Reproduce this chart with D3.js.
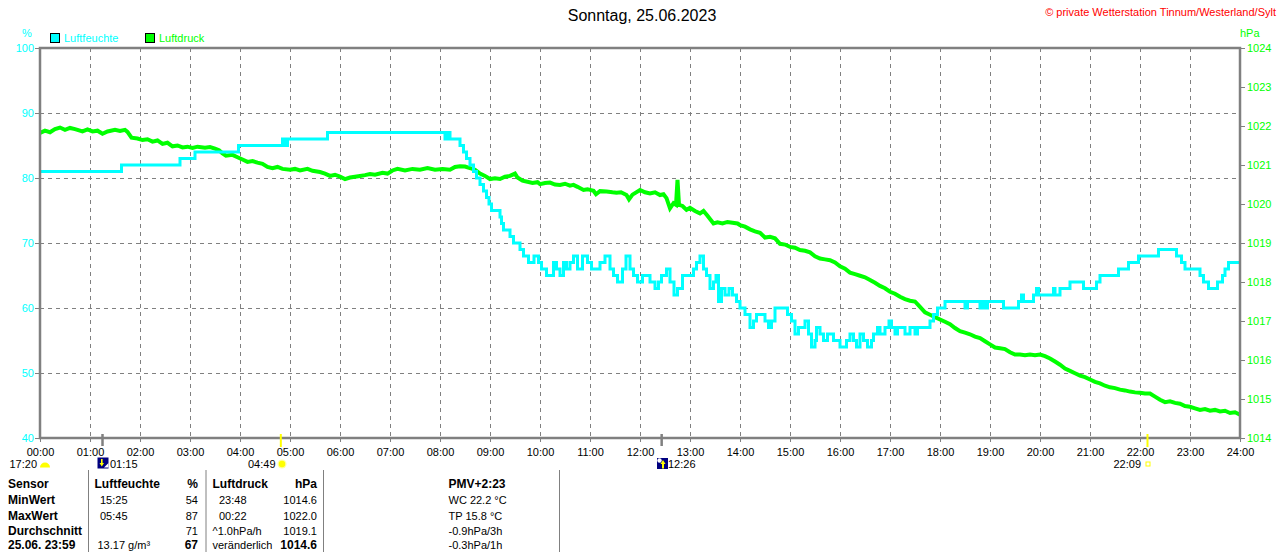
<!DOCTYPE html>
<html>
<head>
<meta charset="utf-8">
<script src="https://cdn.jsdelivr.net/npm/d3@7"></script>
<style>
  body { margin: 0; background: #fff; }
  svg { display: block; font-family: "Liberation Sans", Arial, sans-serif; }
</style>
</head>
<body>
<div id="chart"></div>
<script>
// Luftfeuchte (%), Stufenwerte: Zeitpunkt in Stunden -> Wert
var humHours = [0, 1.63, 2.8, 3.1, 3.97, 4.85, 4.9, 4.95, 5.75, 8.1, 8.15, 8.2, 8.4, 8.47, 8.53, 8.6, 8.67, 8.73, 8.8, 8.87, 8.93, 8.98,
  9.03, 9.2, 9.23, 9.27, 9.4, 9.47, 9.6, 9.67, 9.77, 9.88, 9.97, 10.03, 10.13, 10.27, 10.33, 10.4, 10.47, 10.53, 10.6, 10.67, 10.75,
  10.85, 10.95, 11.03, 11.2, 11.3, 11.4, 11.47, 11.55, 11.65, 11.72, 11.8, 11.87, 11.95, 12.05, 12.2, 12.3, 12.37, 12.43, 12.53, 12.6,
  12.68, 12.75, 12.85, 13.07, 13.13, 13.2, 13.27, 13.33, 13.4, 13.47, 13.52, 13.57, 13.63, 13.7, 13.78, 13.85, 13.93, 14.0, 14.1, 14.2,
  14.27, 14.33, 14.5, 14.57, 14.63, 14.7, 14.95, 15.03, 15.1, 15.17, 15.3, 15.37, 15.43, 15.5, 15.53, 15.6, 15.67, 15.75, 15.87, 16.0,
  16.13, 16.2, 16.27, 16.33, 16.4, 16.47, 16.55, 16.63, 16.67, 16.75, 16.8, 16.9, 16.98, 17.03, 17.1, 17.15, 17.3, 17.4, 17.5, 17.55,
  17.8, 17.87, 17.95, 18.1, 18.5, 18.55, 18.8, 18.85, 18.9, 18.95, 19.27, 19.57, 19.63, 19.67, 19.87, 19.93, 19.97, 20.27, 20.3, 20.4,
  20.6, 20.87, 21.13, 21.2, 21.57, 21.77, 21.97, 22.37, 22.73, 22.83, 22.9, 23.2, 23.27, 23.37, 23.55, 23.65, 23.7, 23.77, 24];
var humValues = [81, 82, 83, 84, 85, 86, 85, 86, 87, 86, 87, 86, 85, 84, 83, 82, 81, 80, 79, 78, 77, 76,
  75, 74, 73, 72, 71, 70, 69, 68, 67, 68, 67, 66, 65, 67, 66, 65, 67, 66, 67, 68, 66,
  68, 67, 66, 67, 68, 66, 65, 64, 66, 68, 66, 65, 64, 65, 64, 63, 64, 65, 66, 64,
  62, 63, 65, 66, 67, 68, 66, 65, 63, 64, 65, 61, 63, 62, 63, 62, 61, 60, 59, 57,
  58, 59, 58, 57, 58, 60, 59, 58, 56, 57, 58, 56, 54, 55, 57, 56, 55, 56, 55, 54,
  55, 56, 55, 54, 56, 55, 54, 55, 56, 57, 56, 57, 58, 57, 56, 57, 56, 57, 56, 57,
  58, 59, 60, 61, 60, 61, 60, 61, 60, 61, 60, 61, 62, 61, 62, 63, 62, 63, 62, 63,
  64, 63, 64, 65, 66, 67, 68, 69, 68, 67, 66, 65, 64, 63, 64, 65, 66, 67, 67];

// Luftdruck (hPa)
var presHours = [0, 0.1, 0.2, 0.3, 0.4, 0.5, 0.6, 0.7, 0.85, 0.95, 1.05, 1.15, 1.25, 1.35, 1.5, 1.6, 1.7, 1.75, 1.83, 1.95,
  2.05, 2.15, 2.25, 2.35, 2.45, 2.55, 2.65, 2.75, 2.85, 2.95, 3.05, 3.15, 3.3, 3.4, 3.5, 3.58, 3.65, 3.72, 3.85, 3.95,
  4.05, 4.15, 4.25, 4.35, 4.45, 4.55, 4.65, 4.75, 4.85, 5.0, 5.1, 5.2, 5.35, 5.45, 5.6, 5.7, 5.8, 5.9, 6.0, 6.1,
  6.2, 6.3, 6.4, 6.5, 6.6, 6.7, 6.85, 6.95, 7.05, 7.15, 7.3, 7.45, 7.6, 7.75, 7.9, 8.05, 8.2, 8.3, 8.4, 8.5,
  8.6, 8.7, 8.8, 8.9, 9.0, 9.1, 9.2, 9.3, 9.4, 9.5, 9.55, 9.65, 9.75, 9.85, 9.95,
  10.0, 10.1, 10.2, 10.3, 10.4, 10.5, 10.6, 10.67, 10.75, 10.87, 10.95, 11.07, 11.12, 11.2, 11.33, 11.45, 11.53, 11.62, 11.73, 11.78, 11.85,
  12.0, 12.1, 12.2, 12.3, 12.4, 12.47, 12.53, 12.6, 12.67, 12.72, 12.75, 12.78, 12.85, 12.93, 13.0, 13.1, 13.2, 13.27, 13.35, 13.47,
  13.55, 13.65, 13.75, 13.85, 13.95, 14.0, 14.1, 14.2,
  14.3, 14.4, 14.5, 14.6, 14.7, 14.8, 14.9, 15.0, 15.1, 15.2, 15.3, 15.4, 15.5, 15.6, 15.7, 15.8, 15.9, 16.0, 16.1, 16.2,
  16.3, 16.4, 16.5, 16.6, 16.7, 16.8, 16.9, 17.0, 17.1, 17.2, 17.3, 17.4, 17.5, 17.6, 17.7, 17.8, 17.9, 18.0, 18.1, 18.2,
  18.3, 18.4, 18.5, 18.6, 18.7, 18.8, 18.9, 19.0, 19.1, 19.2, 19.3, 19.4, 19.5, 19.6, 19.7, 19.8, 19.9, 20.0, 20.1, 20.2,
  20.3, 20.4, 20.5, 20.6, 20.7, 20.8, 20.9, 21.0, 21.1, 21.2, 21.3, 21.4, 21.5, 21.6, 21.7, 21.8, 21.9, 22.0, 22.1, 22.2,
  22.3, 22.4, 22.5, 22.6, 22.7, 22.8, 22.9, 23.0, 23.1, 23.2, 23.3, 23.4, 23.5, 23.6, 23.7, 23.8, 23.9, 24.0];
var presValues = [1021.82, 1021.88, 1021.84, 1021.92, 1021.96, 1021.9, 1021.95, 1021.92, 1021.86, 1021.91, 1021.86, 1021.88, 1021.8, 1021.86, 1021.9, 1021.87, 1021.9, 1021.85, 1021.7, 1021.68,
  1021.64, 1021.66, 1021.6, 1021.63, 1021.54, 1021.57, 1021.48, 1021.5, 1021.45, 1021.47, 1021.44, 1021.47, 1021.44, 1021.46, 1021.42, 1021.38, 1021.3, 1021.24, 1021.26, 1021.2,
  1021.14, 1021.08, 1021.1, 1021.06, 1021.03, 1020.95, 1020.92, 1020.95, 1020.9, 1020.88, 1020.9, 1020.86, 1020.9, 1020.85, 1020.82, 1020.78, 1020.72, 1020.75, 1020.7, 1020.64,
  1020.68, 1020.7, 1020.72, 1020.74, 1020.77, 1020.75, 1020.8, 1020.78, 1020.86, 1020.9, 1020.86, 1020.9, 1020.88, 1020.92, 1020.88, 1020.9, 1020.88, 1020.95, 1020.97, 1020.96,
  1020.92, 1020.88, 1020.78, 1020.72, 1020.64, 1020.66, 1020.64, 1020.7, 1020.72, 1020.78, 1020.68, 1020.6, 1020.57, 1020.54, 1020.56,
  1020.51, 1020.54, 1020.55, 1020.5, 1020.49, 1020.52, 1020.47, 1020.49, 1020.44, 1020.36, 1020.38, 1020.34, 1020.25, 1020.33, 1020.32, 1020.3, 1020.29, 1020.3, 1020.23, 1020.12, 1020.24,
  1020.36, 1020.3, 1020.27, 1020.3, 1020.23, 1020.25, 1020.15, 1019.89, 1020.02, 1019.98, 1020.62, 1019.98, 1019.95, 1019.85, 1019.9, 1019.82, 1019.76, 1019.82, 1019.7, 1019.5,
  1019.53, 1019.5, 1019.54, 1019.52, 1019.5, 1019.46, 1019.42, 1019.35,
  1019.3, 1019.26, 1019.14, 1019.16, 1019.12, 1018.98, 1018.96, 1018.9, 1018.88, 1018.82, 1018.8, 1018.76, 1018.66, 1018.6, 1018.58, 1018.56, 1018.5, 1018.4, 1018.34, 1018.24,
  1018.2, 1018.16, 1018.12, 1018.05, 1017.98, 1017.9, 1017.84, 1017.75, 1017.7, 1017.62, 1017.56, 1017.52, 1017.5, 1017.36, 1017.22, 1017.16, 1017.1, 1017.04, 1016.98, 1016.92,
  1016.82, 1016.74, 1016.7, 1016.66, 1016.6, 1016.56, 1016.48, 1016.4, 1016.32, 1016.3, 1016.28, 1016.2, 1016.14, 1016.14, 1016.12, 1016.14, 1016.12, 1016.14, 1016.1, 1016.04,
  1015.96, 1015.88, 1015.78, 1015.72, 1015.66, 1015.6, 1015.56, 1015.5, 1015.44, 1015.4, 1015.34, 1015.3, 1015.28, 1015.24, 1015.22, 1015.19, 1015.17, 1015.16, 1015.14, 1015.14,
  1015.06, 1014.98, 1014.92, 1014.94, 1014.9, 1014.88, 1014.82, 1014.8, 1014.76, 1014.72, 1014.74, 1014.7, 1014.72, 1014.68, 1014.7, 1014.64, 1014.66, 1014.6];

// Achsenbeschriftungen
var humTicks = [40, 50, 60, 70, 80, 90, 100];
var presTicks = [1014, 1015, 1016, 1017, 1018, 1019, 1020, 1021, 1022, 1023, 1024];
var hourTicks = d3.range(0, 25);

// Mond/Sonne Ereignisse unter der Zeitachse
var eventLabels = ["01:15", "04:49", "12:26", "22:09"];
var eventHours = [1.25, 4.8167, 12.4333, 22.15];

// Tabelle unten
var tableRows = ["Sensor", "MinWert", "MaxWert", "Durchschnitt", "25.06. 23:59"];
var humTimes = ["", "15:25", "05:45", "", "13.17 g/m\u00b3"];
var humStats = ["%", "54", "87", "71", "67"];
var presTimes = ["Luftdruck", "23:48", "00:22", "^1.0hPa/h", "ver\u00e4nderlich"];
var presStats = ["hPa", "1014.6", "1022.0", "1019.1", "1014.6"];
var extraInfo = ["PMV+2:23", "WC 22.2 \u00b0C", "TP 15.8 \u00b0C", "-0.9hPa/3h", "-0.3hPa/1h"];

var width = 1280, height = 552;
var plotL = 40, plotR = 1240, plotT = 48, plotB = 438;
var grey = "#808080", cyan = "#00ffff", green = "#00ff00";

var svg = d3.select("#chart").append("svg")
  .attr("width", width)
  .attr("height", height);

var x = d3.scaleLinear().domain([0, 24]).range([plotL, plotR]);
var yHum = d3.scaleLinear().domain([40, 100]).range([plotB, plotT]);
var yPres = d3.scaleLinear().domain([1014, 1024]).range([plotB, plotT]);

// Titel + Copyright
svg.append("text")
  .attr("x", 642).attr("y", 21)
  .attr("text-anchor", "middle")
  .style("font-size", "16px")
  .text("Sonntag, 25.06.2023");

svg.append("text")
  .attr("x", 1276).attr("y", 16)
  .attr("text-anchor", "end")
  .attr("fill", "#ff0000")
  .style("font-size", "11px")
  .text("\u00a9 private Wetterstation Tinnum/Westerland/Sylt");

// Einheiten
svg.append("text").attr("x", 22).attr("y", 37).attr("fill", cyan).style("font-size", "11px").text("%");
svg.append("text").attr("x", 1240).attr("y", 37).attr("fill", green).style("font-size", "11px").text("hPa");

// Legende
var legend = [["Luftfeuchte", cyan, 50], ["Luftdruck", green, 145]];
legend.forEach(function(l) {
  svg.append("rect")
    .attr("x", l[2] + 0.5).attr("y", 33.5)
    .attr("width", 9).attr("height", 9)
    .attr("fill", l[1]).attr("stroke", "#000");
  svg.append("text")
    .attr("x", l[2] + 14).attr("y", 42)
    .attr("fill", l[1])
    .style("font-size", "11px")
    .text(l[0]);
});

// Gitter
svg.append("g").selectAll("line")
  .data(hourTicks.slice(1, 24))
  .enter().append("line")
  .attr("x1", function(d) { return Math.round(x(d)) + 0.5; })
  .attr("x2", function(d) { return Math.round(x(d)) + 0.5; })
  .attr("y1", plotT).attr("y2", plotB)
  .attr("stroke", grey).attr("stroke-dasharray", "4,4");

svg.append("g").selectAll("line")
  .data(humTicks.slice(1, 6))
  .enter().append("line")
  .attr("x1", plotL).attr("x2", plotR)
  .attr("y1", function(d) { return Math.round(yHum(d)) + 0.5; })
  .attr("y2", function(d) { return Math.round(yHum(d)) + 0.5; })
  .attr("stroke", grey).attr("stroke-dasharray", "4,4");

// Achsen
var axL = svg.append("g")
  .attr("transform", "translate(" + plotL + ",0)")
  .call(d3.axisLeft(yHum).tickValues(humTicks).tickSize(5).tickPadding(1));
var axR = svg.append("g")
  .attr("transform", "translate(" + plotR + ",0)")
  .call(d3.axisRight(yPres).tickValues(presTicks).tickSize(5).tickPadding(2)
    .tickFormat(d3.format("d")));
var axB = svg.append("g")
  .attr("transform", "translate(0," + plotB + ")")
  .call(d3.axisBottom(x).tickValues(hourTicks).tickSize(4).tickPadding(6)
    .tickFormat(function(d) { return (d < 10 ? "0" : "") + d + ":00"; }));

[axL, axR, axB].forEach(function(a) {
  a.select(".domain").remove();
  a.selectAll(".tick line").attr("stroke", grey);
  a.selectAll(".tick text")
    .style("font-family", "'Liberation Sans', Arial, sans-serif")
    .style("font-size", "11px");
});
axL.selectAll(".tick text").attr("fill", cyan);
axR.selectAll(".tick text").attr("fill", green);
axB.selectAll(".tick text").attr("fill", "#000");

// Kurven
svg.append("clipPath").attr("id", "plot")
  .append("rect").attr("x", plotL).attr("y", plotT)
  .attr("width", plotR - plotL).attr("height", plotB - plotT);

var presData = presHours.map(function(h, i) { return [h, presValues[i]]; });
var humData = humHours.map(function(h, i) { return [h, humValues[i]]; });

svg.append("path")
  .datum(presData)
  .attr("clip-path", "url(#plot)")
  .attr("fill", "none")
  .attr("stroke", green)
  .attr("stroke-width", 4)
  .attr("d", d3.line()
    .x(function(d) { return x(d[0]); })
    .y(function(d) { return yPres(d[1]); }));

svg.append("path")
  .datum(humData)
  .attr("clip-path", "url(#plot)")
  .attr("fill", "none")
  .attr("stroke", cyan)
  .attr("stroke-width", 3)
  .attr("d", d3.line()
    .curve(d3.curveStepAfter)
    .x(function(d) { return x(d[0]); })
    .y(function(d) { return yHum(d[1]); }));

// Rahmen
svg.append("rect")
  .attr("x", plotL).attr("y", plotT)
  .attr("width", plotR - plotL).attr("height", plotB - plotT)
  .attr("fill", "none").attr("stroke", grey).attr("stroke-width", 2.5);

// Ereignis-Markierungen (Mond grau, Sonne gelb)
var markColor = [grey, "#ffff00", grey, "#ffff00"];
eventHours.forEach(function(h, i) {
  svg.append("line")
    .attr("x1", x(h)).attr("x2", x(h))
    .attr("y1", 434).attr("y2", i % 2 ? 447 : 446)
    .attr("stroke", markColor[i]).attr("stroke-width", i % 2 ? 2 : 2.5);
});

function label(xp, txt, anchor) {
  svg.append("text")
    .attr("x", xp).attr("y", 468)
    .attr("text-anchor", anchor)
    .style("font-size", "11px")
    .text(txt);
}

// 17:20 (Vortag) halbe Sonne
label(37, "17:20", "end");
svg.append("path")
  .attr("d", "M40,467.5 A5,5 0 0 1 50,467.5 Z")
  .attr("fill", "#ffff00");

// 01:15 Monduntergang
svg.append("rect").attr("x", 97.5).attr("y", 457.5).attr("width", 11).attr("height", 11).attr("fill", "#000080");
svg.append("path").attr("d", "M104,467.5 L108.5,467.5 L108.5,463 Z").attr("fill", "#fff");
svg.append("path").attr("d", "M101,459 L101,463 L99.5,463 L101.8,466.5 L104,463 L102.6,463 L102.6,459 Z").attr("fill", "#ffff00");
label(110, eventLabels[0], "start");

// 04:49 Sonnenaufgang
label(275.5, eventLabels[1], "end");
svg.append("circle").attr("cx", 282).attr("cy", 464).attr("r", 4.5).attr("fill", "#ffffa0");
svg.append("circle").attr("cx", 282).attr("cy", 464).attr("r", 3.2).attr("fill", "#ffff00");

// 12:26 Mondaufgang
svg.append("rect").attr("x", 657).attr("y", 458).attr("width", 11).attr("height", 11).attr("fill", "#000080");
svg.append("circle").attr("cx", 659.5).attr("cy", 460.5).attr("r", 2.2).attr("fill", "#fff");
svg.append("path").attr("d", "M663,460 L665.5,464 L664,464 L664,468.5 L662,468.5 L662,464 L660.5,464 Z").attr("fill", "#ffff00");
label(668, eventLabels[2], "start");

// 22:09 Sonnenuntergang
label(1141, eventLabels[3], "end");
svg.append("rect").attr("x", 1146).attr("y", 462).attr("width", 4).attr("height", 4)
  .attr("fill", "none").attr("stroke", "#ffff00");

// Tabelle
[88.5, 206, 323.5, 559.5].forEach(function(xp) {
  svg.append("line")
    .attr("x1", xp).attr("x2", xp)
    .attr("y1", 470).attr("y2", height)
    .attr("stroke", grey);
});

var rowY = [488, 504, 520, 535, 549];
function cell(xp, yp, txt, anchor, bold) {
  svg.append("text")
    .attr("x", xp).attr("y", yp)
    .attr("text-anchor", anchor)
    .style("font-size", bold ? "12px" : "11px")
    .style("font-weight", bold ? "bold" : "normal")
    .text(txt);
}

tableRows.forEach(function(t, i) {
  cell(8, rowY[i], t, "start", true);
  if (i === 0) cell(94.5, rowY[i], "Luftfeuchte", "start", true);
  else if (i === 4) cell(97.5, rowY[i], humTimes[i], "start", false);
  else cell(100, rowY[i], humTimes[i], "start", false);
  cell(198, rowY[i], humStats[i], "end", i === 0 || i === 4);
  cell(i === 1 || i === 2 ? 219 : 212.5, rowY[i], presTimes[i], "start", i === 0);
  cell(317, rowY[i], presStats[i], "end", i === 0 || i === 4);
  cell(448.5, rowY[i], extraInfo[i], "start", i === 0);
});
</script>
</body>
</html>
